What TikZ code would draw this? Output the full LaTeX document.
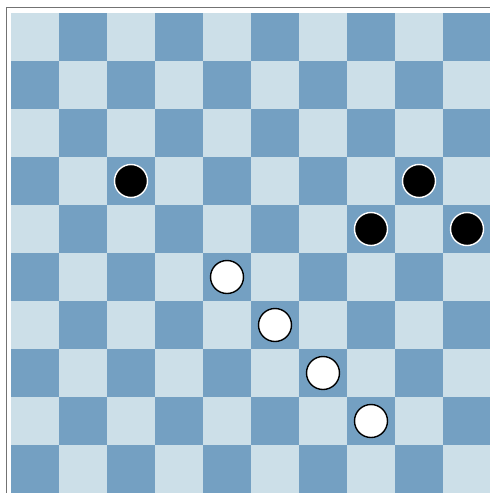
\documentclass[tikz,border=0pt]{standalone}
\begin{document}
\begin{tikzpicture}[x=1pt,y=-1pt,
  lightsq/.style={fill=lightcell},
  darksq/.style={fill=darkcell},
  blackpiece/.style={circle,draw=white,line width=1.4pt,fill=black,minimum size=33pt,inner sep=0pt},
  whitepiece/.style={circle,draw=black,line width=1.4pt,fill=white,minimum size=33pt,inner sep=0pt}]
\definecolor{lightcell}{HTML}{CCDFE8}
\definecolor{darkcell}{HTML}{74A0C2}
\useasboundingbox (0,0) rectangle (490,493);
\fill[white] (0,0) rectangle (490,493);
\foreach \r in {0,...,9}{
  \foreach \c in {0,...,9}{
    \pgfmathtruncatemacro{\p}{mod(\r+\c,2)}
    \ifnum\p=0
      \fill[lightcell] (11+48*\c,13+48*\r) rectangle (11+48*\c+48,13+48*\r+48);
    \else
      \fill[darkcell] (11+48*\c,13+48*\r) rectangle (11+48*\c+48,13+48*\r+48);
    \fi
  }
}
\draw[gray!90!black,line width=1.5pt] (6.5,493) -- (6.5,7.5) -- (491,7.5);
\node[blackpiece] (b1) at (131,181) {};
\node[blackpiece] (b2) at (419,181) {};
\node[blackpiece] (b3) at (371,229) {};
\node[blackpiece] (b4) at (467,229) {};
\node[whitepiece] (w1) at (227,277) {};
\node[whitepiece] (w2) at (275,325) {};
\node[whitepiece] (w3) at (323,373) {};
\node[whitepiece] (w4) at (371,421) {};
\end{tikzpicture}
\end{document}
